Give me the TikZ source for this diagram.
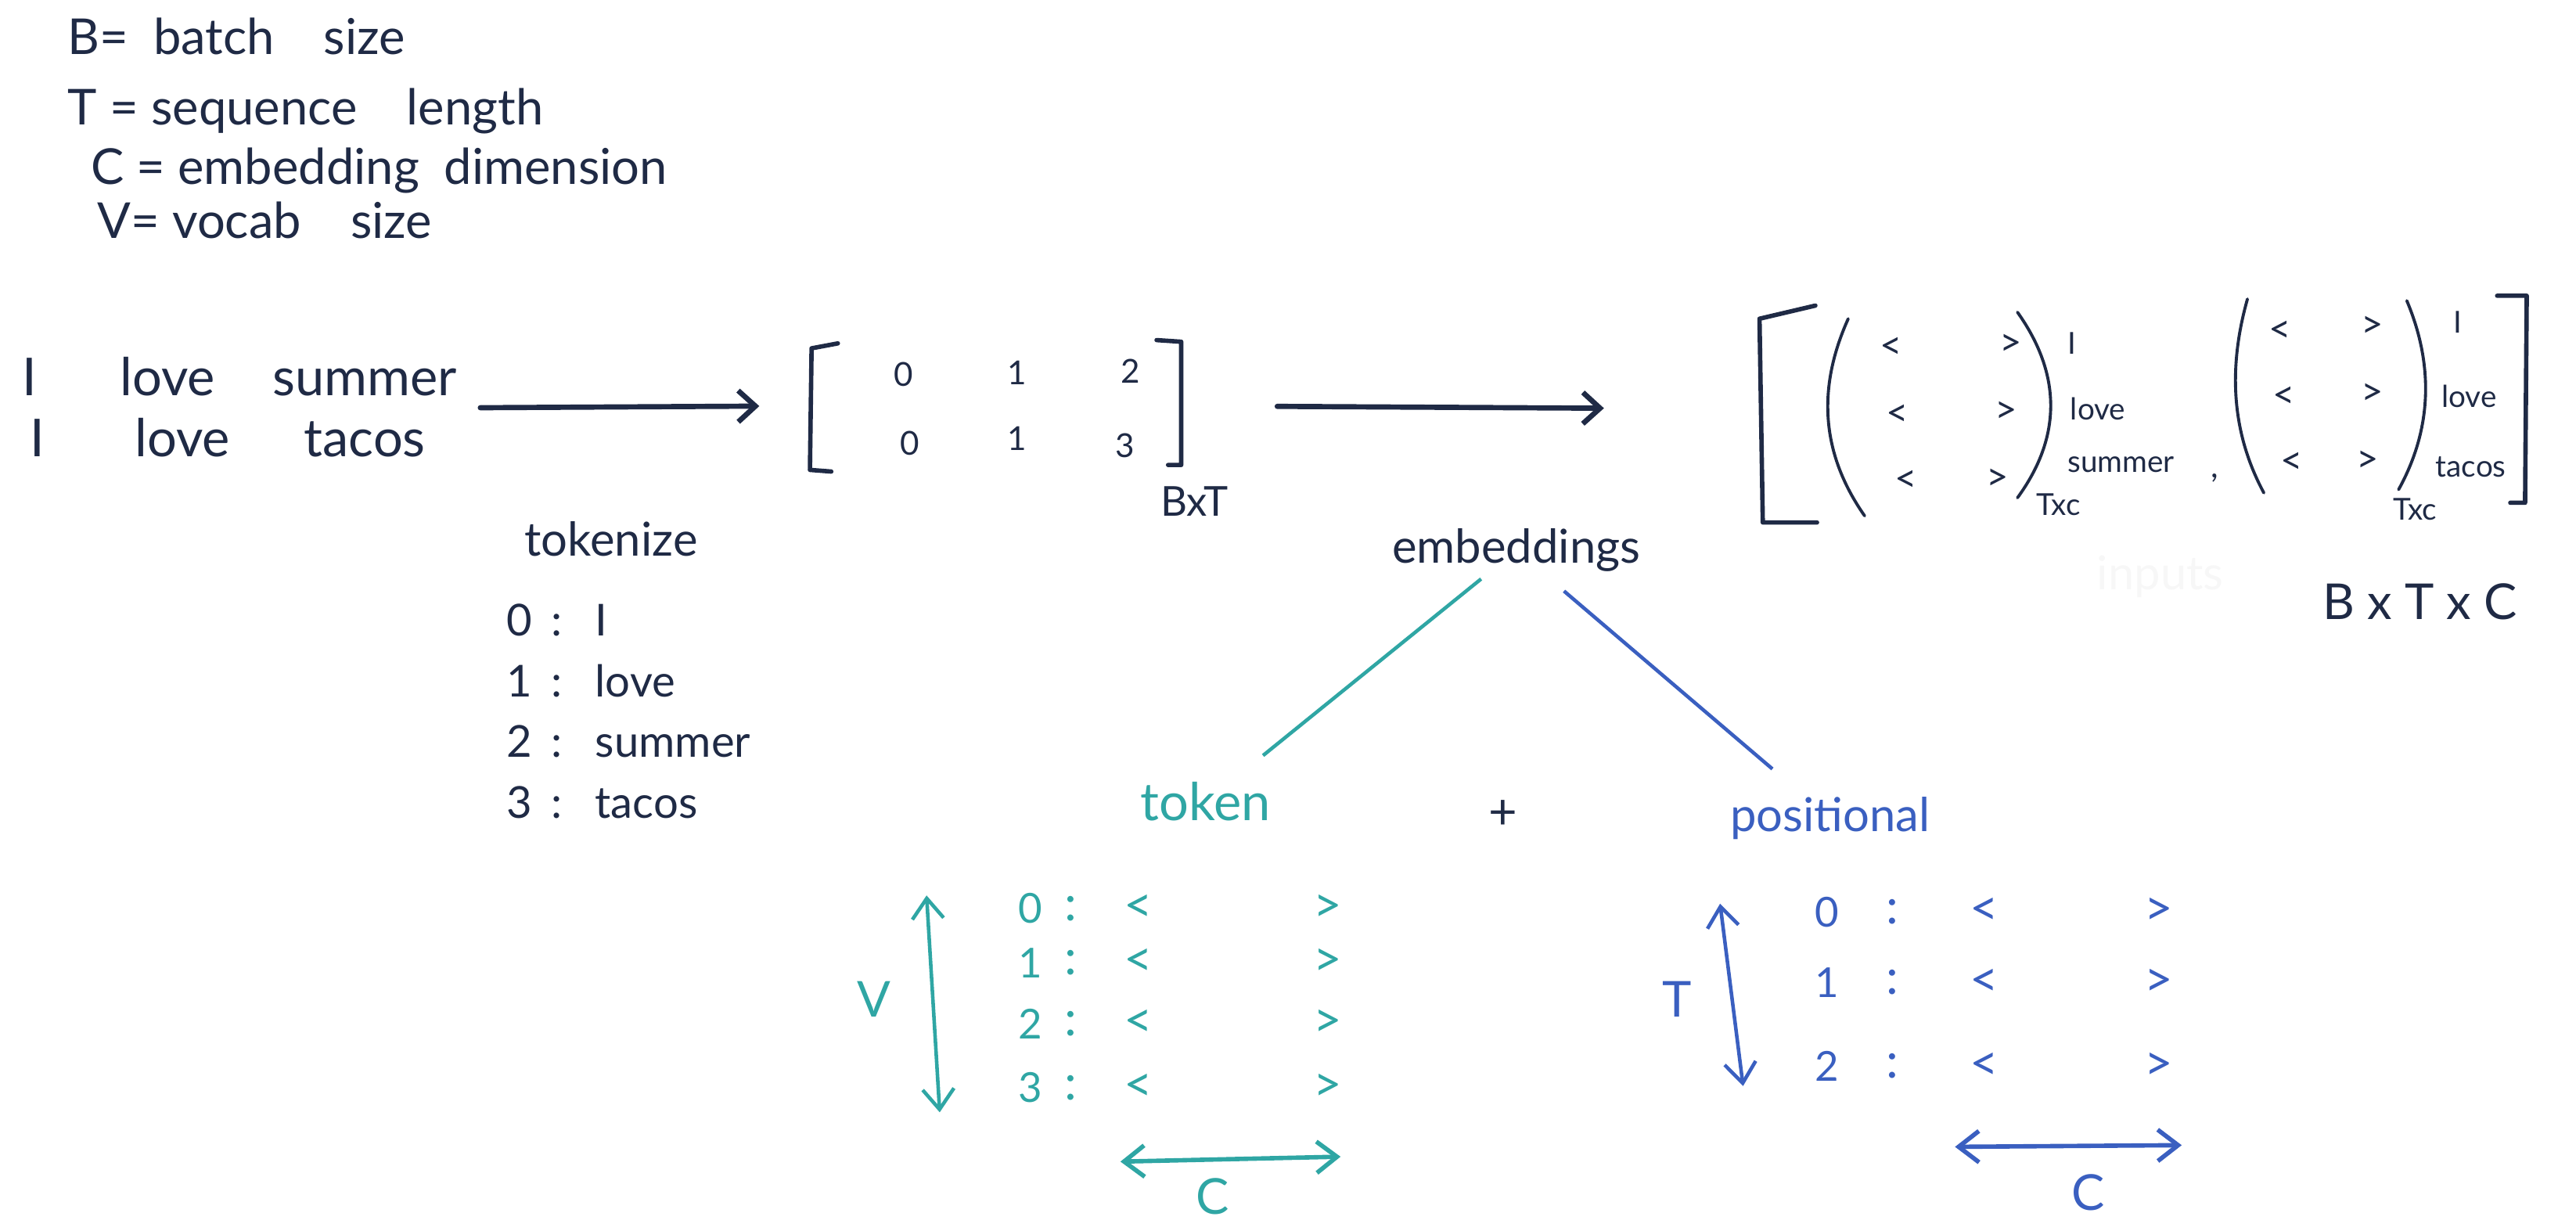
\documentclass[tikz,border=0pt]{standalone}
\usepackage{fontspec}
\setmainfont{Lato}
\usetikzlibrary{arrows.meta,positioning,calc,fit}
\definecolor{InkColor}{RGB}{31,42,69}
\definecolor{TokenColor}{RGB}{47,166,164}
\definecolor{PosColor}{RGB}{58,95,192}
\definecolor{FaintGray}{RGB}{247,247,247}
\tikzset{
  hand/.style={font=\fontsize{19}{23}\selectfont, text=InkColor, inner sep=0pt},
  legend/.style={font=\fontsize{18}{22}\selectfont, text=InkColor, inner sep=0pt, anchor=base west},
  entry/.style={font=\fontsize{12}{14}\selectfont, text=InkColor, inner sep=0pt},
  vecend/.style={font=\fontsize{14}{16}\selectfont, text=InkColor, inner sep=0pt},
  lbl/.style={font=\fontsize{11}{13}\selectfont, text=InkColor, inner sep=0pt},
  pen/.style={line width=1.6pt, line cap=round, line join=round, InkColor},
  thinpen/.style={line width=1.1pt, line cap=round, InkColor},
  barb/.style={-{Straight Barb[length=2.2mm,width=4mm]}},
  dbarb/.style={{Straight Barb[length=2.6mm,width=4mm]}-{Straight Barb[length=2.6mm,width=4mm]}},
}

\begin{document}
\begin{tikzpicture}[x=0.20995mm, y=-0.20995mm]
  \useasboundingbox (0,0) rectangle (1568,749);

  % legend
  \node[legend] (legB) at (41,33) {B=\enspace batch\quad size};
  \node[legend] (legT) at (41,76) {T = sequence\quad length};
  \node[legend] (legC) at (55,112) {C = embedding\enspace dimension};
  \node[legend] (legV) at (59,145) {V= vocab\quad size};

  % input sentences
  \foreach \w/\x/\y [count=\k] in {I/18/241, love/102/241, summer/222/241, I/23/278, love/111/278, tacos/222/278}
    \node[hand, anchor=base] (w\k) at (\x,\y) {\w};
  \node[fit=(w1)(w3)(w4)(w6), inner sep=1pt] (sents) {};

  % token ids, B x T
  \coordinate (idsNW) at (493,208);
  \coordinate (idsSE) at (719,286);
  \node[fit=(idsNW)(idsSE), inner sep=0pt] (ids) {};
  \draw[pen] (510,209) -- (494,212) -- (493,286) -- (506,287);
  \draw[pen] (704,207) -- (719,208) -- (719,283) -- (711,283);
  \foreach \v/\x/\y [count=\k] in {0/550/228, 1/619/227, 2/688/226, 0/554/270, 1/619/267, 3/685/271}
    \node[entry] (id\k) at (\x,\y) {\v};
  \node[hand, font=\fontsize{15}{18}\selectfont] (bt) at (727,305) {BxT};

  \draw[pen, line width=1.9pt, barb, shorten <=2.5mm, shorten >=6.4mm] (sents.east) -- (ids.west);

  % embedded inputs, B x T x C
  \coordinate (embNW) at (1070,180);
  \coordinate (embSE) at (1538,318);
  \node[fit=(embNW)(embSE), inner sep=0pt] (emb) {};
  \draw[pen] (1105,186) -- (1071,194) -- (1073,318) -- (1106,318);
  \draw[pen] (1520,180) -- (1538,180) -- (1537,306) -- (1528,306);
  \draw[thinpen] (1125,194) .. controls (1107,234) and (1107,274) .. (1135,314);
  \draw[thinpen] (1228,190) .. controls (1255,228) and (1255,266) .. (1228,303);
  \draw[thinpen] (1368,182) .. controls (1357,221) and (1357,261) .. (1378,300);
  \draw[thinpen] (1465,183) .. controls (1481,221) and (1481,260) .. (1460,298);
  \foreach \s/\x/\y [count=\k] in {</1151/212, >/1224/210, </1155/253, >/1221/251, </1160/293, >/1216/292,
                                   </1388/202, >/1444/199, </1390/242, >/1444/240, </1395/282, >/1441/281}
    \node[vecend] (e\k) at (\x,\y) {\s};
  \node[lbl] (lI1) at (1261,209) {I};
  \node[lbl] (lL1) at (1277,249) {love};
  \node[lbl] (lS1) at (1291,283) {summer};
  \node[lbl] (tc1) at (1253,307) {Txc};
  \node[entry] (comma) at (1348,291) {,};
  \node[lbl] (lI2) at (1496,196) {I};
  \node[lbl] (lL2) at (1503,241) {love};
  \node[lbl] (lT2) at (1504,284) {tacos};
  \node[lbl] (tc2) at (1470,310) {Txc};
  \node[hand, font=\fontsize{18}{22}\selectfont] (btc) at (1473,366) {B x T x C};
  \node[hand, font=\fontsize{17}{20}\selectfont, text=FaintGray] (inputs) at (1315,351) {inputs};

  \draw[pen, line width=1.9pt, barb, shorten <=12.2mm, shorten >=19.6mm] (ids.east) -- (emb.west);

  % tokenizer vocabulary
  \node[hand, font=\fontsize{17}{20}\selectfont] (tokz) at (372,328) {tokenize};
  \foreach \d/\w/\y [count=\k] in {0/I/387, 1/love/424, 2/summer/461, 3/tacos/498} {
    \node[hand, font=\fontsize{16}{19}\selectfont, anchor=base] (vd\k) at (316,\y) {\d};
    \node[hand, font=\fontsize{16}{19}\selectfont, anchor=base] (vc\k) at (339,\y) {:};
    \node[hand, font=\fontsize{16}{19}\selectfont, anchor=base west] (vw\k) at (362,\y) {\w};
  }

  % embeddings = token + positional
  \node[hand, font=\fontsize{17}{20}\selectfont] (embtxt) at (923,335) {embeddings};
  \node[hand, font=\fontsize{19}{23}\selectfont, text=TokenColor] (token) at (734,488) {token};
  \node[hand, font=\fontsize{18}{22}\selectfont] (plus) at (915,496) {+};
  \node[hand, font=\fontsize{17}{20}\selectfont, text=PosColor] (posn) at (1114,498) {positional};
  \draw[line width=1.3pt, TokenColor, shorten <=5.8mm, shorten >=9.4mm] (embtxt.center) -- (token.center);
  \draw[line width=1.3pt, PosColor, shorten <=8mm, shorten >=9.7mm] (embtxt.center) -- (posn.center);

  % token embedding table, V x C
  \foreach \d/\y [count=\k] in {0/553, 1/586, 2/623, 3/662} {
    \node[hand, font=\fontsize{15}{18}\selectfont, text=TokenColor] (td\k) at (627,\y) {\d};
    \node[hand, font=\fontsize{18}{22}\selectfont, text=TokenColor] (tc\k) at (652,\y) {:};
    \node[hand, font=\fontsize{18}{22}\selectfont, text=TokenColor] (tl\k) at (693,\y) {<};
    \node[hand, font=\fontsize{18}{22}\selectfont, text=TokenColor] (tr\k) at (808,\y) {>};
  }
  \coordinate (vTop) at (564,545);
  \coordinate (vBot) at (572,677);
  \draw[line width=1.3pt, TokenColor, dbarb] (vTop) -- (vBot);
  \node[hand, font=\fontsize{18}{22}\selectfont, text=TokenColor] (vlbl) at (532,608) {V};
  \coordinate (tcL) at (682,707);
  \coordinate (tcR) at (816,704);
  \draw[line width=1.6pt, TokenColor, dbarb] (tcL) -- (tcR);
  \node[hand, font=\fontsize{18}{22}\selectfont, text=TokenColor] (tclbl) at (738,728) {C};

  % positional embedding table, T x C
  \foreach \d/\y [count=\k] in {0/555, 1/598, 2/649} {
    \node[hand, font=\fontsize{15}{18}\selectfont, text=PosColor] (pd\k) at (1112,\y) {\d};
    \node[hand, font=\fontsize{18}{22}\selectfont, text=PosColor] (pc\k) at (1152,\y) {:};
    \node[hand, font=\fontsize{18}{22}\selectfont, text=PosColor] (pl\k) at (1208,\y) {<};
    \node[hand, font=\fontsize{18}{22}\selectfont, text=PosColor] (pr\k) at (1314,\y) {>};
  }
  \coordinate (tTop) at (1047,550);
  \coordinate (tBot) at (1061,661);
  \draw[line width=1.3pt, PosColor, dbarb] (tTop) -- (tBot);
  \node[hand, font=\fontsize{18}{22}\selectfont, text=PosColor] (tlbl) at (1021,608) {T};
  \coordinate (pcL) at (1190,698);
  \coordinate (pcR) at (1328,697);
  \draw[line width=1.6pt, PosColor, dbarb] (pcL) -- (pcR);
  \node[hand, font=\fontsize{18}{22}\selectfont, text=PosColor] (pclbl) at (1271,726) {C};
\end{tikzpicture}
\end{document}
